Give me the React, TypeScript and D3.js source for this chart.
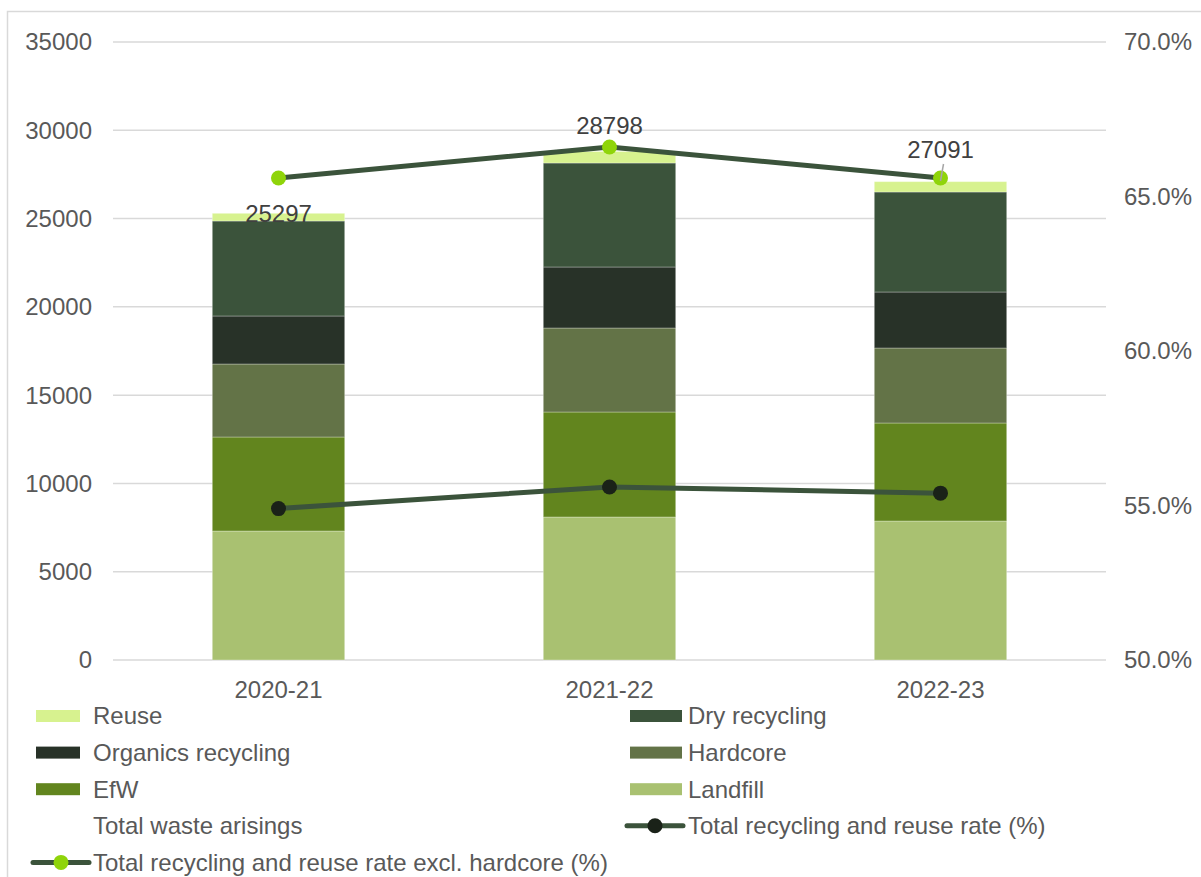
import React from "react";
import * as d3 from "d3";

const years = ["2020-21", "2021-22", "2022-23"];
const landfill = [7306, 8099, 7872];
const efw = [5323, 5946, 5550];
const hardcore = [4135, 4758, 4248];
const organics = [2718, 3454, 3171];
const dryRecycling = [5380, 5890, 5664];
const reuse = [435, 651, 586];
const totals = [25297, 28798, 27091];
const rateTotal = [0.549, 0.556, 0.554];
const rateExclHardcore = [0.656, 0.666, 0.656];
const leftTicks = [0, 5000, 10000, 15000, 20000, 25000, 30000, 35000];
const rightTicks = [0.5, 0.55, 0.6, 0.65, 0.7];

const seriesNames = ["Landfill", "EfW", "Hardcore", "Organics recycling", "Dry recycling", "Reuse"];
const seriesValues = [landfill, efw, hardcore, organics, dryRecycling, reuse];
const seriesColors = ["#a9c171", "#62851e", "#637347", "#283228", "#3b533b", "#d7f28f"];

const FONT = "'Liberation Sans', Arial, sans-serif";
const TXT = "#595959";
const FS = 24;

export default function App() {
  const W = 1201, H = 877;
  const x = d3.scaleBand<string>().domain(years).range([113, 1106]).paddingInner(0.6).paddingOuter(0.3);
  const y = d3.scaleLinear().domain([0, 35000]).range([660, 42]);
  const y2 = d3.scaleLinear().domain([0.5, 0.7]).range([660, 42]);

  const table = years.map((yr, i) => {
    const row: any = { year: yr };
    seriesNames.forEach((n, s) => (row[n] = seriesValues[s][i]));
    return row;
  });
  const stack = d3.stack<any>().keys(seriesNames)(table);
  const cx = (yr: string) => (x(yr) as number) + x.bandwidth() / 2;
  const line = d3.line<number>().x((_, i) => cx(years[i])).y((d) => y2(d));

  const legend = [
    { name: "Reuse", color: "#d7f28f", type: "rect", col: 0, row: 0 },
    { name: "Dry recycling", color: "#3b533b", type: "rect", col: 1, row: 0 },
    { name: "Organics recycling", color: "#283228", type: "rect", col: 0, row: 1 },
    { name: "Hardcore", color: "#637347", type: "rect", col: 1, row: 1 },
    { name: "EfW", color: "#62851e", type: "rect", col: 0, row: 2 },
    { name: "Landfill", color: "#a9c171", type: "rect", col: 1, row: 2 },
    { name: "Total waste arisings", color: "none", type: "none", col: 0, row: 3 },
    { name: "Total recycling and reuse rate (%)", color: "#1a2218", type: "line", col: 1, row: 3 },
    { name: "Total recycling and reuse rate excl. hardcore (%)", color: "#8fd40a", type: "line", col: 0, row: 4 },
  ];
  const legX = [36, 630];
  const legY = (r: number) => 716 + r * 36.6;

  const labelY = [222, 134, 158];

  return (
    <svg width={W} height={H} style={{ position: "absolute", left: 0, top: 0, background: "#fff" }} fontFamily={FONT}>
      <rect x={7.5} y={11.5} width={1300} height={1000} fill="none" stroke="#d9d9d9" strokeWidth={1.5} />
      {leftTicks.map((t) => (
        <g key={t}>
          <line x1={113} x2={1106} y1={y(t)} y2={y(t)} stroke="#d9d9d9" strokeWidth={1.5} />
          <text x={92} y={y(t)} dy="0.35em" textAnchor="end" fontSize={FS} fill={TXT}>{t}</text>
        </g>
      ))}
      {rightTicks.map((t) => (
        <text key={t} x={1124} y={y2(t)} dy="0.35em" textAnchor="start" fontSize={FS} fill={TXT}>
          {d3.format(".1%")(t)}
        </text>
      ))}
      {stack.map((s, si) => (
        <g key={s.key} fill={seriesColors[si]}>
          {s.map((d, i) => (
            <rect key={i} x={x(years[i])} width={x.bandwidth()} y={y(d[1])} height={y(d[0]) - y(d[1])}
              stroke="rgba(255,255,255,0.3)" strokeWidth={1} />
          ))}
        </g>
      ))}
      {years.map((yr) => (
        <text key={yr} x={cx(yr)} y={690} dy="0.35em" textAnchor="middle" fontSize={FS} fill={TXT}>{yr}</text>
      ))}
      <path d={line(rateTotal) || ""} fill="none" stroke="#3b533b" strokeWidth={5} />
      <path d={line(rateExclHardcore) || ""} fill="none" stroke="#3b533b" strokeWidth={5} />
      {rateTotal.map((v, i) => (
        <circle key={"a" + i} cx={cx(years[i])} cy={y2(v)} r={7.5} fill="#1a2218" />
      ))}
      {rateExclHardcore.map((v, i) => (
        <circle key={"b" + i} cx={cx(years[i])} cy={y2(v)} r={7.5} fill="#8fd40a" />
      ))}
      <line x1={cx(years[2]) + 3} y1={164} x2={cx(years[2])} y2={181} stroke="#a6a6a6" strokeWidth={1.5} />
      {totals.map((v, i) => (
        <text key={"t" + i} x={cx(years[i])} y={labelY[i]} textAnchor="middle" fontSize={FS} fill="#404040">{v}</text>
      ))}
      {legend.map((l) => {
        const lx = legX[l.col];
        const ly = legY(l.row);
        return (
          <g key={l.name}>
            {l.type === "rect" && <rect x={lx} y={ly - 6} width={l.col === 0 ? 44 : 52} height={12} fill={l.color} />}
            {l.type === "line" && (
              <g>
                <line x1={lx - 3} x2={lx + 53} y1={ly} y2={ly} stroke="#3b533b" strokeWidth={5} strokeLinecap="round" />
                <circle cx={lx + 25} cy={ly} r={7.5} fill={l.color} />
              </g>
            )}
            <text x={l.col === 0 ? 93 : 688} y={ly} dy="0.35em" fontSize={FS} fill={TXT}>{l.name}</text>
          </g>
        );
      })}
    </svg>
  );
}
